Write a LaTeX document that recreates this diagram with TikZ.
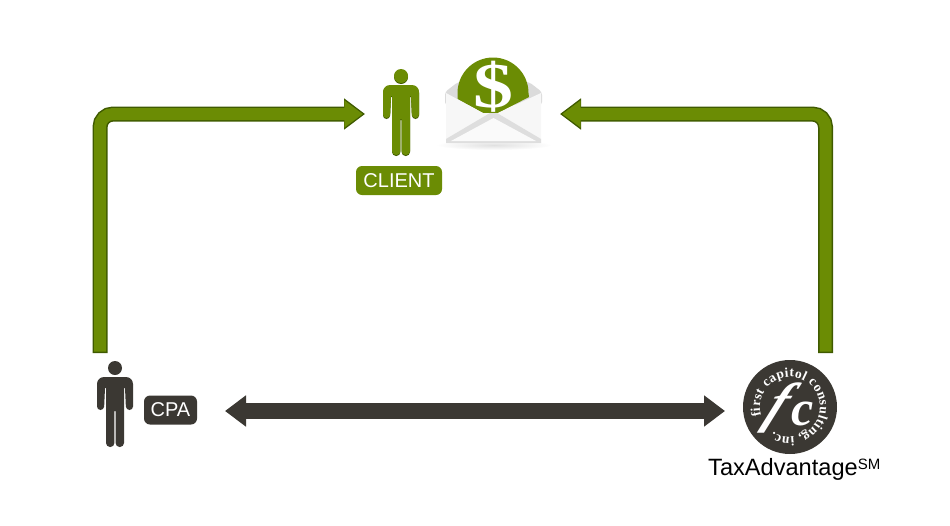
\documentclass[tikz,border=0pt]{standalone}
\usepackage{fontspec}
\setmainfont{Liberation Sans}
\newfontfamily\logofont{Liberation Serif}
\usetikzlibrary{arrows.meta,decorations.text,shadings}

\definecolor{leaf}{HTML}{6B8C04}
\definecolor{leafdark}{HTML}{3F5A00}
\definecolor{slate}{HTML}{3B3833}

\tikzset{
  tag/.style={rounded corners=6,minimum height=29,inner sep=0,text=white,font=\fontsize{20}{20}\selectfont},
  shaft/.style={rounded corners=13,line width=15,leafdark,-{Triangle[length=21pt,width=30pt]}},
  core/.style={rounded corners=13,line width=12,leaf,shorten <=1.5pt,shorten >=2.2pt,-{Triangle[length=18.5pt,width=26pt]}},
  person/.pic={
    \path[pic actions] (0,0) circle (7);
    \path[pic actions,rounded corners=3.5] (-18,42) -- (-18,18) [rounded corners=7] -- (-18,9) -- (18,9)
      [rounded corners=3.5] -- (18,42) -- (11,42) [sharp corners] -- (10,20) -- (9,20)
      [rounded corners=4] -- (9,79) -- (0.6,79) [sharp corners] -- (0.6,43) -- (-0.6,43)
      [rounded corners=4] -- (-0.6,79) -- (-9,79) [sharp corners] -- (-9,20) -- (-10,20)
      [rounded corners=3.5] -- (-11,42) -- cycle;
  }
}

\begin{document}
\begin{tikzpicture}[x=1pt,y=-1pt]
\useasboundingbox (0,0) rectangle (950,525);

% people
\pic[fill=leafdark] at (401,77) {person};
\pic[fill=leaf] (client) at (401,76) {person};
\pic[fill=slate] (cpa) at (115,368) {person};

\node [tag,fill=leaf,minimum width=86]  (clienttag) at (399,180.5) {CLIENT};
\node [tag,fill=slate,minimum width=53] (cpatag)    at (170.5,410) {CPA};

% envelope
\shade [inner color=black!12,outer color=white] (494,145) ellipse (58 and 5);
\fill [black!14,rounded corners=3] (445,105) -- (445,92) -- (458,82) -- (529,82) -- (542,92) -- (542,105) -- cycle;
\fill [leaf] (457.5,93) arc (180:360:35.5) -- (529,97) -- (498,113) -- (483,113) -- (457.5,99) -- cycle;
\fill [black!3] (446,93) -- (483,113) -- (498,113) -- (541,93) -- (541,142) -- (446,142) -- cycle;
\fill [black!13] (446,139) -- (490,113) -- (497,113) -- (541,139) -- (541,143) -- (446,143) -- cycle;
\fill [black!2] (451,141) -- (493.5,118) -- (536,141) -- cycle;
\node [inner sep=0,text=white,font=\logofont\bfseries\fontsize{64}{64}\selectfont] (dollar) at (493.5,87) {\scalebox{1.25}[1]{\$}};

% logo
\node [circle,fill=slate,minimum size=94,inner sep=0] (logo) at (790,407) {};
\path [postaction={decorate,decoration={text along path,text align=fit to path,
    text={|\logofont\bfseries\fontsize{13.5}{13.5}\selectfont\color{white}|first capitol consulting, inc.}}}]
  (logo.center) ++(163:30) arc (163:484:30);
\begin{scope}[shift={(778,408)},xslant=.45]
\node [transform shape,inner sep=0,text=white,font=\logofont\bfseries\itshape\fontsize{55}{55}\selectfont] (letterf) at (0,0) {f};
\end{scope}
\node [inner sep=0,text=white,font=\logofont\bfseries\itshape\fontsize{50}{50}\selectfont] (letterc) at (803,414) {c};
\node [inner sep=0,anchor=base west,text=black,font=\fontsize{23.6}{23.6}\selectfont] (taxadv) at (708,475)
    {TaxAdvantage\raisebox{5.5pt}{\fontsize{15}{15}\selectfont SM}};

% connectors
\coordinate (cpaup)     at (100,353);
\coordinate (clientin)  at (365,114);
\coordinate (logoup)    at (825.5,353);
\coordinate (envin)     at (560,114);
\coordinate (cpaout)    at (225,411);
\coordinate (logoin)    at (725,411);
\draw [shaft] (cpaup) |- (clientin);
\draw [core]  (cpaup) |- (clientin);
\draw [shaft] (logoup) |- (envin);
\draw [core]  (logoup) |- (envin);
\draw [line width=16,slate,{Triangle[length=21pt,width=30pt]}-{Triangle[length=21pt,width=30pt]}]
  (cpaout) -- (logoin);
\end{tikzpicture}
\end{document}
